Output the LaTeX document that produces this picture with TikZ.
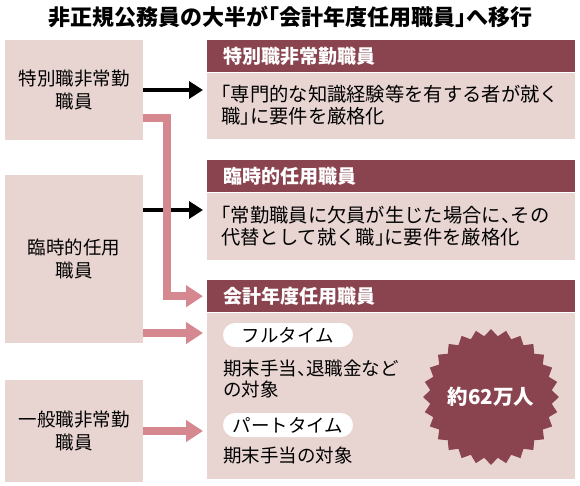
\documentclass[tikz,border=0pt]{standalone}
\usepackage{fontspec}
\setmainfont{Noto Sans CJK JP}
\usetikzlibrary{arrows.meta,shapes.geometric}

\definecolor{hdrred}{RGB}{138,68,80}
\definecolor{boxpink}{RGB}{232,213,210}
\definecolor{arrpink}{RGB}{213,136,143}

% half-width brackets and comma
\newcommand\kakkoL{\makebox[0.5em][r]{「}}
\newcommand\kakkoR{\makebox[0.5em][l]{」}}
\newcommand\touten{\makebox[0.5em][l]{、}}

\tikzset{
  lbox/.style={fill=boxpink,minimum width=138pt,minimum height=#1,inner sep=0pt,
    align=center,font=\fontsize{18.5}{23}\selectfont},
  hdr/.style={fill=hdrred,text=white,minimum height=32pt,text width=336pt,inner xsep=16pt,
    inner ysep=0pt,align=left,font=\fontsize{19}{22}\selectfont\bfseries},
  bdy/.style={fill=boxpink,minimum height=#1,text width=340pt,inner xsep=14pt,inner ysep=0pt,
    align=left,font=\fontsize{19.3}{22}\selectfont},
  pill/.style={fill=white,rounded corners=12pt,minimum width=130pt,minimum height=24pt,
    inner sep=0pt,font=\fontsize{18.5}{22}\selectfont},
  ctxt/.style={anchor=west,inner sep=0pt,align=left,font=\fontsize{18.5}{21}\selectfont},
  blk/.style={line width=3.5pt,-{Triangle[length=14pt,width=17pt]},shorten >=4pt},
  pnk/.style={draw=arrpink,line width=7.5pt,-{Triangle[length=17pt,width=21pt]},shorten >=4pt},
}

\begin{document}
\begin{tikzpicture}[x=1pt,y=-1pt]
\useasboundingbox (0,0) rectangle (580,485);

% title
\node[font=\fontsize{22}{24}\selectfont\bfseries] (title) at (290,17)
  {非正規公務員の大半が\kakkoL 会計年度任用職員\kakkoR へ移行};

% current positions (left)
\node[lbox=100pt] (tokubetsu) at (74,90) {特別職非常勤\\職員};
\node[lbox=168pt] (rinji) at (74,259) {臨時的任用\\職員};
\node[lbox=102pt] (ippan) at (74,431) {一般職非常勤\\職員};

% new positions (right)
\node[hdr,anchor=north west] (hA) at (207,40) {特別職非常勤職員};
\node[bdy=66pt,anchor=north] (bA) at (hA.south)
  {\kakkoL 専門的な知識経験等を有する者が就く\\職\kakkoR に要件を厳格化};
\node[hdr,anchor=north west] (hB) at (207,160) {臨時的任用職員};
\node[bdy=67pt,anchor=north] (bB) at (hB.south)
  {\kakkoL 常勤職員に欠員が生じた場合に\touten その\\代替として就く職\kakkoR に要件を厳格化};
\node[hdr,anchor=north west] (hC) at (207,280) {会計年度任用職員};
\node[bdy=166pt,anchor=north] (bC) at (hC.south) {};

\node[pill] (full) at (288,335) {フルタイム};
\node[ctxt] (fulltxt) at (223,379) {期末手当\touten 退職金など\\の対象};
\node[pill] (part) at (288,425) {パートタイム};
\node[ctxt] (parttxt) at (223,455) {期末手当の対象};

\node[star,star points=28,star point ratio=1.11,minimum size=104pt,inner sep=0pt,
  fill=hdrred,text=white,font=\fontsize{20.5}{22}\selectfont\bfseries] (burst) at (491,397) {約62万人};

% connectors
\coordinate (k1) at (143,90);
\coordinate (k2) at (143,210);
\coordinate (p1) at (143,118);
\coordinate (p2) at (143,333);
\draw[blk] (k1) -- (k1 -| bA.west);
\draw[blk] (k2) -- (k2 -| bB.west);
\draw[pnk] (p1) -- ++(24,0) |- (hC.west);
\draw[pnk] (p2) -- (p2 -| bC.west);
\draw[pnk] (ippan.east) -- (ippan.east -| bC.west);
\end{tikzpicture}
\end{document}
